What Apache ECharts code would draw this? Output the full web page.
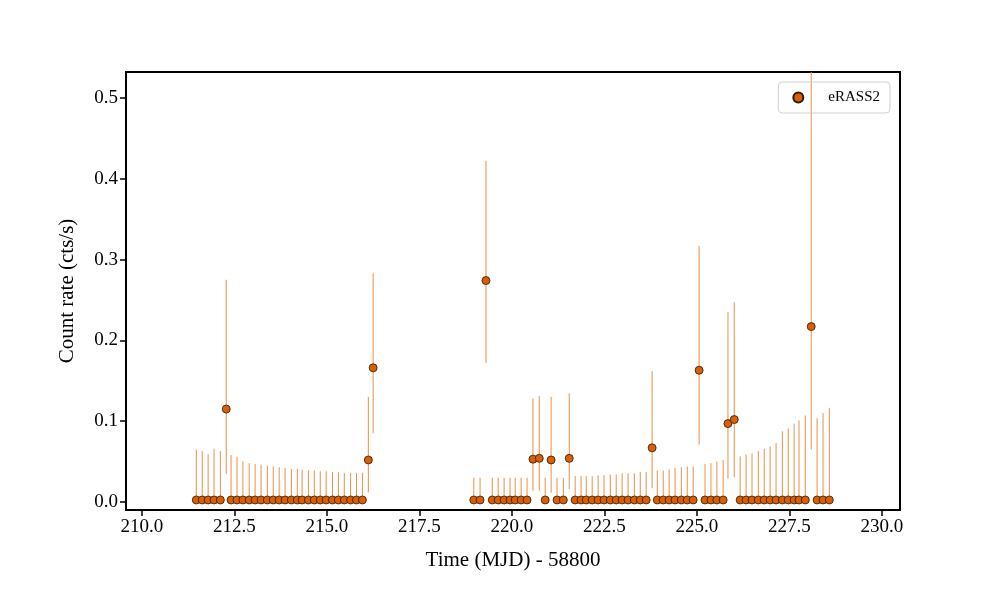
<!DOCTYPE html>
<html><head><meta charset="utf-8">
<script src="https://cdn.jsdelivr.net/npm/echarts@6/dist/echarts.min.js"></script>
<style>html,body{margin:0;padding:0;background:#fff}#c{width:1000px;height:600px}</style>
</head><body><div id="c"></div>
<script>
const times = [
211.47,211.63,211.79,211.95,212.12,212.28,212.41,212.57,212.73,212.90,213.06,213.22,213.39,213.55,213.71,213.87,214.04,214.20,214.33,214.50,214.66,214.82,214.98,215.15,215.31,215.47,215.64,215.80,215.96,216.12,216.25,
218.97,219.14,219.30,219.47,219.63,219.79,219.95,220.09,220.25,220.41,220.57,220.74,220.90,221.06,221.22,221.39,221.55,221.71,221.87,222.01,222.17,222.33,222.49,222.66,222.82,222.98,223.14,223.31,223.47,223.63,223.79,223.93,224.09,224.25,224.41,224.58,224.74,224.90,225.06,
225.22,225.38,225.54,225.71,225.84,226.01,226.17,226.33,226.49,226.66,226.82,226.98,227.14,227.31,227.47,227.63,227.76,227.93,228.09,228.25,228.41,228.58];
const rates = [
0.0025,0.0025,0.0025,0.0025,0.0025,0.115,0.0025,0.0025,0.0025,0.0025,0.0025,0.0025,0.0025,0.0025,0.0025,0.0025,0.0025,0.0025,0.0025,0.0025,0.0025,0.0025,0.0025,0.0025,0.0025,0.0025,0.0025,0.0025,0.0025,0.052,0.166,
0.0025,0.0025,0.274,0.0025,0.0025,0.0025,0.0025,0.0025,0.0025,0.0025,0.053,0.054,0.0025,0.052,0.0025,0.0025,0.054,0.0025,0.0025,0.0025,0.0025,0.0025,0.0025,0.0025,0.0025,0.0025,0.0025,0.0025,0.0025,0.0025,0.067,0.0025,0.0025,0.0025,0.0025,0.0025,0.0025,0.0025,0.163,
0.0025,0.0025,0.0025,0.0025,0.097,0.102,0.0025,0.0025,0.0025,0.0025,0.0025,0.0025,0.0025,0.0025,0.0025,0.0025,0.0025,0.0025,0.217,0.0025,0.0025,0.0025];
const errLow = [
0,0,0,0,0,0.035,0,0,0,0,0,0,0,0,0,0,0,0,0,0,0,0,0,0,0,0,0,0,0,0.012,0.085,
0,0,0.172,0,0,0,0,0,0,0,0.014,0.014,0,0.0115,0,0,0.016,0,0,0,0,0,0,0,0,0,0,0,0,0,0.017,0,0,0,0,0,0,0,0.071,
0,0,0,0,0.029,0.0305,0,0,0,0,0,0,0,0,0,0,0,0,0.065,0,0,0];
const errHigh = [
0.065,0.063,0.059,0.066,0.063,0.275,0.058,0.056,0.050,0.048,0.047,0.046,0.045,0.044,0.043,0.042,0.041,0.041,0.040,0.039,0.039,0.038,0.038,0.037,0.037,0.036,0.036,0.036,0.036,0.130,0.283,
0.030,0.030,0.422,0.030,0.030,0.030,0.030,0.030,0.030,0.030,0.128,0.131,0.030,0.130,0.030,0.030,0.1345,0.032,0.032,0.032,0.032,0.033,0.033,0.034,0.034,0.0355,0.0355,0.0355,0.037,0.037,0.162,0.039,0.039,0.040,0.042,0.043,0.044,0.044,0.317,
0.047,0.048,0.050,0.052,0.235,0.247,0.0565,0.059,0.060,0.063,0.066,0.069,0.073,0.0875,0.091,0.097,0.101,0.107,0.60,0.1035,0.110,0.116];
const xTicks = [210,212.5,215,217.5,220,222.5,225,227.5,230];
const yTicks = [0,0.1,0.2,0.3,0.4,0.5];

const pts = times.map((t,i)=>[t,rates[i]]);
const errs = times.map((t,i)=>[t,errLow[i],errHigh[i]]);
const font = '"Liberation Serif", "DejaVu Serif", serif';
const chart = echarts.init(document.getElementById('c'));
chart.setOption({
  animation:false,
  grid:{left:126,right:100,top:72,bottom:90,show:true,borderColor:'#000',borderWidth:2},
  legend:{right:110,top:82,orient:'vertical',data:['eRASS2'],borderColor:'#d0d0d0',borderWidth:1,borderRadius:4,
    padding:[8,10,8,14],itemGap:8,itemWidth:10,itemHeight:10,textStyle:{fontFamily:font,fontSize:15,color:'#000',padding:[0,0,0,20]}},
  xAxis:{type:'value',min:209.57,max:230.49,
    name:'Time (MJD) - 58800',nameLocation:'middle',nameGap:40,nameTextStyle:{fontFamily:font,fontSize:21,color:'#000'},
    axisLine:{show:true,onZero:false,lineStyle:{color:'#000',width:2}},splitLine:{show:false},
    axisTick:{show:true,length:6,lineStyle:{color:'#000',width:1.5},customValues:xTicks},
    axisLabel:{fontFamily:font,fontSize:19,color:'#000',margin:8,customValues:xTicks,formatter:v=>v.toFixed(1)}},
  yAxis:{type:'value',min:-0.0099,max:0.532,
    name:'Count rate (cts/s)',nameLocation:'middle',nameGap:48,nameTextStyle:{fontFamily:font,fontSize:21,color:'#000'},
    axisLine:{show:true,onZero:false,lineStyle:{color:'#000',width:2}},splitLine:{show:false},
    axisTick:{show:true,length:6,lineStyle:{color:'#000',width:1.5},customValues:yTicks},
    axisLabel:{fontFamily:font,fontSize:19,color:'#000',margin:8,customValues:yTicks,formatter:v=>v.toFixed(1)}},
  series:[
    {type:'custom',clip:true,data:errs,silent:true,
      renderItem:(params,api)=>{
        const a=api.coord([api.value(0),api.value(1)]);
        const b=api.coord([api.value(0),api.value(2)]);
        return {type:'line',shape:{x1:a[0],y1:a[1],x2:b[0],y2:b[1]},style:{stroke:'#eb8f45',lineWidth:1}};
      },z:1},
    {type:'scatter',name:'eRASS2',data:pts,symbol:'circle',symbolSize:8,
      itemStyle:{color:'#d95f02',borderColor:'#2a1a10',borderWidth:0.8,opacity:1},z:2}
  ]
});
</script></body></html>
